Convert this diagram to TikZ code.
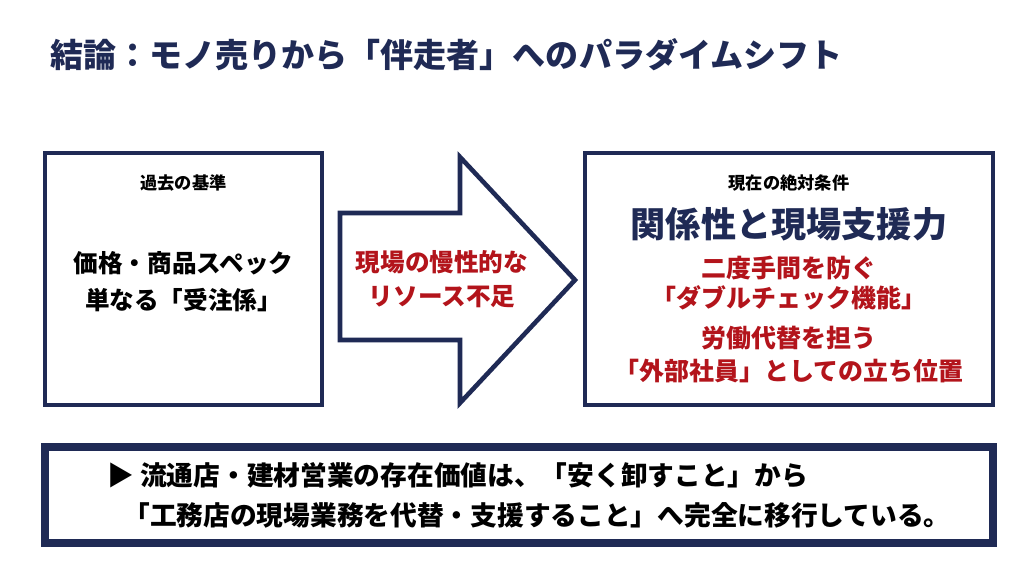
\documentclass[tikz,border=0pt]{standalone}
\usepackage{fontspec}
\setmainfont{Noto Sans CJK JP}
\usepackage{tikz}
\usetikzlibrary{positioning}
\definecolor{navy}{HTML}{1F2A55}
\definecolor{accent}{HTML}{B3141B}

\begin{document}
\begin{tikzpicture}[
    panel/.style={
        rectangle,
        draw=navy,
        line width=1.3pt,
        fill=white,
        inner sep=0pt
    },
    caption/.style={
        font=\fontsize{4.9pt}{6pt}\selectfont\bfseries
    },
    body/.style={
        font=\fontsize{7pt}{9.6pt}\selectfont\bfseries,
        align=center
    }
]
\useasboundingbox[fill=white] (0,0) rectangle (10.24,5.76);

% title
\node[anchor=west, text=navy, font=\fontsize{9.4pt}{11pt}\selectfont\bfseries] (title) at (0.38,5.21)
    {結論：モノ売りから「伴走者」へのパラダイムシフト};

% past
\node[panel, minimum width=2.77cm, minimum height=2.52cm] (past) at (1.835,2.97) {};
\node[caption] (pastcap) at (1.835,3.93) {過去の基準};
\node[body, font=\fontsize{7pt}{10.5pt}\selectfont\bfseries] (pasttext) at (1.835,2.94) {価格・商品スペック\\単なる「受注係」};

% arrow
\draw[navy, line width=1.3pt, fill=white, line join=miter]
    (3.40,3.63) -- (4.60,3.63) -- (4.60,4.19) -- (5.75,2.96)
    -- (4.60,1.73) -- (4.60,2.36) -- (3.40,2.36) -- cycle;
\node[body, text=accent] (cause) at (4.42,2.97) {現場の慢性的な\\リソース不足};

% present
\node[panel, minimum width=4.08cm, minimum height=2.52cm] (present) at (7.89,2.97) {};
\node[caption] (presentcap) at (7.89,3.93) {現在の絶対条件};
\node[text=navy, font=\fontsize{10pt}{11pt}\selectfont\bfseries] (key) at (7.89,3.52) {関係性と現場支援力};
\node[body, text=accent, font=\fontsize{7.1pt}{8.6pt}\selectfont\bfseries] (check) at (7.89,2.93) {二度手間を防ぐ\\「ダブルチェック機能」};
\node[body, text=accent, font=\fontsize{7.1pt}{9.4pt}\selectfont\bfseries] (staff) at (7.89,2.21) {労働代替を担う\\「外部社員」としての立ち位置};

% conclusion
\node[panel, line width=2pt, minimum width=9.48cm, minimum height=0.96cm] (bottom) at (5.19,0.81) {};
\node[body, align=left, anchor=west, font=\fontsize{7.6pt}{11.4pt}\selectfont\bfseries] (summary) at (0.95,0.81)
    {▶ 流通店・建材営業の存在価値は、「安く卸すこと」から\\
     \hspace{0.6em}「工務店の現場業務を代替・支援すること」へ完全に移行している。};
\end{tikzpicture}
\end{document}
